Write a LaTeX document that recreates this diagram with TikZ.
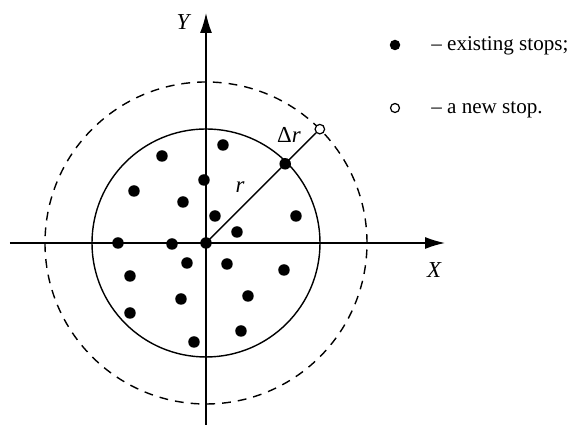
\documentclass[tikz,border=0pt]{standalone}
\usepackage{fontspec}
\setmainfont{Liberation Serif}
\usetikzlibrary{arrows.meta}
\tikzset{
  stop/.style={circle,fill=black,inner sep=0pt,minimum size=2.3mm},
  newstop/.style={circle,draw=black,fill=white,line width=0.7pt,inner sep=0pt,minimum size=1.9mm},
  axis/.style={line width=0.8pt,-{Latex[length=4mm,width=2.4mm]}},
  lbl/.style={font=\fontsize{12}{14}\selectfont},
  ilbl/.style={font=\fontsize{13}{15}\selectfont\itshape}
}
\begin{document}
\begin{tikzpicture}[x=0.2mm,y=0.2mm]
    \useasboundingbox (-206,-184) rectangle (363,243);

    % axes
    \coordinate (xl) at (-196,0);
    \coordinate (xr) at (239,0);
    \coordinate (yb) at (0,-182);
    \coordinate (yt) at (0,230);
    \draw[axis] (xl) -- (xr);
    \draw[axis] (yb) -- (yt);
    \node[ilbl] (xlab) at (228,-27) {X};
    \node[ilbl] (ylab) at (-23,221) {Y};

    % circles
    \node[stop] (o) at (0,0) {};
    \draw[line width=0.8pt] (o.center) circle[radius=114];
    \draw[line width=0.8pt,dashed,dash pattern=on 5pt off 4pt] (o.center) circle[radius=161];

    % radius
    \node[stop] (edge) at (45:112) {};
    \node[newstop] (new) at (45:161) {};
    \draw[line width=0.8pt] (o.center) -- (edge.center) -- (new);
    \node[ilbl] (rlab) at (34,56) {r};
    \node[ilbl,font=\fontsize{13}{15}\selectfont] (drlab) at (83,108) {Δ\textit{r}};

    % existing stops
    \foreach \px/\py [count=\i] in {17/98,-44/87,-2/63,-72/52,-23/41,9/27,90/27,31/11,
        -88/0,-34/-1,-19/-20,21/-21,-76/-33,78/-27,42/-53,-25/-56,-76/-70,35/-88,-12/-99}
      \node[stop] (s\i) at (\px,\py) {};

    % legend
    \node[stop,minimum size=2.1mm] (keyold) at (189,198) {};
    \node[lbl,anchor=base west,inner sep=0pt] (keyoldtext) at (225,192) {– existing stops;};
    \node[newstop,minimum size=1.8mm] (keynew) at (189,135) {};
    \node[lbl,anchor=base west,inner sep=0pt] (keynewtext) at (225,129) {– a new stop.};
\end{tikzpicture}
\end{document}
